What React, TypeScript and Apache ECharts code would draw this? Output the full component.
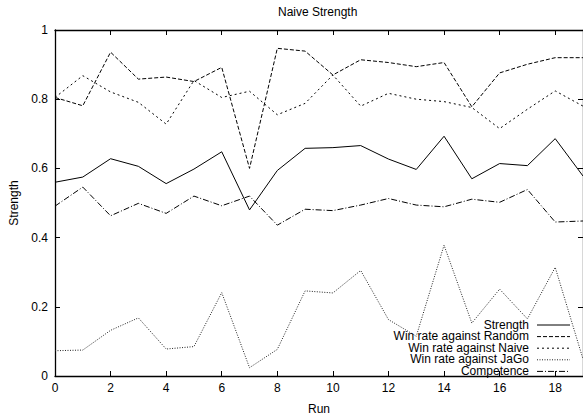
import React, { useEffect, useRef } from "react";
import * as echarts from "echarts";

const runs = [0, 1, 2, 3, 4, 5, 6, 7, 8, 9, 10, 11, 12, 13, 14, 15, 16, 17, 18, 19];
const seriesNames = [
  "Strength",
  "Win rate against Random",
  "Win rate against Naive",
  "Win rate against JaGo",
  "Competence",
];
const strength = [0.56, 0.575, 0.628, 0.606, 0.556, 0.598, 0.648, 0.48, 0.594, 0.658, 0.66, 0.666, 0.627, 0.597, 0.693, 0.57, 0.614, 0.608, 0.686, 0.578];
const winRandom = [0.805, 0.781, 0.936, 0.858, 0.864, 0.851, 0.892, 0.6, 0.947, 0.939, 0.87, 0.914, 0.906, 0.894, 0.906, 0.778, 0.876, 0.901, 0.92, 0.92];
const winNaive = [0.805, 0.868, 0.821, 0.791, 0.728, 0.854, 0.805, 0.823, 0.755, 0.788, 0.87, 0.78, 0.817, 0.8, 0.793, 0.776, 0.715, 0.771, 0.824, 0.78];
const winJaGo = [0.073, 0.075, 0.132, 0.168, 0.078, 0.085, 0.241, 0.024, 0.077, 0.246, 0.24, 0.305, 0.163, 0.115, 0.378, 0.153, 0.251, 0.165, 0.314, 0.049];
const competence = [0.491, 0.546, 0.463, 0.499, 0.47, 0.52, 0.492, 0.52, 0.436, 0.482, 0.478, 0.494, 0.513, 0.494, 0.489, 0.511, 0.502, 0.539, 0.445, 0.448];
const xTicks = [0, 2, 4, 6, 8, 10, 12, 14, 16, 18];
const yTicks = [0, 0.2, 0.4, 0.6, 0.8, 1];

const allValues = [strength, winRandom, winNaive, winJaGo, competence];
const dashes: any[] = ["solid", [4, 2], [2, 3], [1, 1.5], [6, 2, 1, 2]];
const colors = ["#000", "#000", "#000", "#222", "#000"];

export default function App() {
  const ref = useRef<HTMLDivElement>(null);
  useEffect(() => {
    if (!ref.current) return;
    const chart = echarts.init(ref.current, undefined, { renderer: "svg" });
    const font = "'Liberation Sans', Arial, Helvetica, sans-serif";
    const gridLeft = 52.7;
    const gridTop = 30;
    const gridW = 532;
    const gridH = 352.3;
    const axisBase = {
      type: "value" as const,
      axisLine: { show: true, onZero: false, lineStyle: { color: "#000", width: 1.3 } },
      axisTick: { show: true, inside: true, length: 5, lineStyle: { color: "#000" } },
      splitLine: { show: false },
    };
    const legendGraphics: any[] = [];
    seriesNames.forEach((name, i) => {
      const y = 324.5 + i * 11.6;
      legendGraphics.push({
        type: "text",
        x: 529,
        y,
        style: {
          text: name,
          align: "right",
          verticalAlign: "middle",
          fontSize: 12,
          lineHeight: 11,
          fontFamily: font,
          fill: "#000",
        },
        z: 100,
      });
      legendGraphics.push({
        type: "line",
        shape: { x1: 537, y1: y + 0.5, x2: 570, y2: y + 0.5 },
        style: { stroke: colors[i], lineWidth: 1, lineDash: dashes[i] === "solid" ? null : dashes[i] },
        z: 100,
      });
    });
    chart.setOption({
      animation: false,
      backgroundColor: "#fff",
      textStyle: { fontFamily: font },
      title: {
        text: "Naive Strength",
        left: 273,
        top: 1,
        textStyle: { fontSize: 12, fontWeight: "normal", color: "#000", fontFamily: font },
      },
      grid: { left: gridLeft, top: gridTop, width: gridW, height: gridH, containLabel: false },
      xAxis: [
        {
          ...axisBase,
          position: "bottom",
          min: 0,
          max: 19,
          interval: 2,
          name: "Run",
          nameLocation: "middle",
          nameGap: 27,
          nameTextStyle: { fontSize: 12, color: "#000", fontFamily: font },
          axisLabel: {
            fontSize: 12,
            color: "#000",
            margin: 6,
            showMaxLabel: false,
            formatter: (v: number) => (xTicks.includes(v) ? String(v) : ""),
          },
        },
        {
          ...axisBase,
          position: "top",
          min: 0,
          max: 19,
          interval: 2,
          axisLabel: { show: false },
        },
      ],
      yAxis: [
        {
          ...axisBase,
          position: "left",
          min: 0,
          max: 1,
          interval: 0.2,
          name: "Strength",
          nameLocation: "middle",
          nameGap: 35,
          nameTextStyle: { fontSize: 12, color: "#000", fontFamily: font },
          axisLabel: {
            fontSize: 12,
            color: "#000",
            margin: 7,
            formatter: (v: number) => {
              const t = yTicks.find((k) => Math.abs(k - v) < 1e-9);
              return t === undefined ? "" : String(t);
            },
          },
        },
        {
          ...axisBase,
          position: "right",
          min: 0,
          max: 1,
          interval: 0.2,
          axisLabel: { show: false },
        },
      ],
      series: seriesNames.map((name, i) => ({
        name,
        type: "line",
        xAxisIndex: 0,
        yAxisIndex: 0,
        symbol: "none",
        data: runs.map((r, j) => [r, allValues[i][j]]),
        lineStyle: { color: colors[i], width: 1, type: dashes[i] },
        itemStyle: { color: colors[i] },
      })),
      graphic: legendGraphics,
    });
    return () => chart.dispose();
  }, []);
  return (
    <div
      ref={ref}
      style={{ position: "fixed", left: 0, top: 0, width: 583, height: 420, background: "#fff" }}
    />
  );
}
